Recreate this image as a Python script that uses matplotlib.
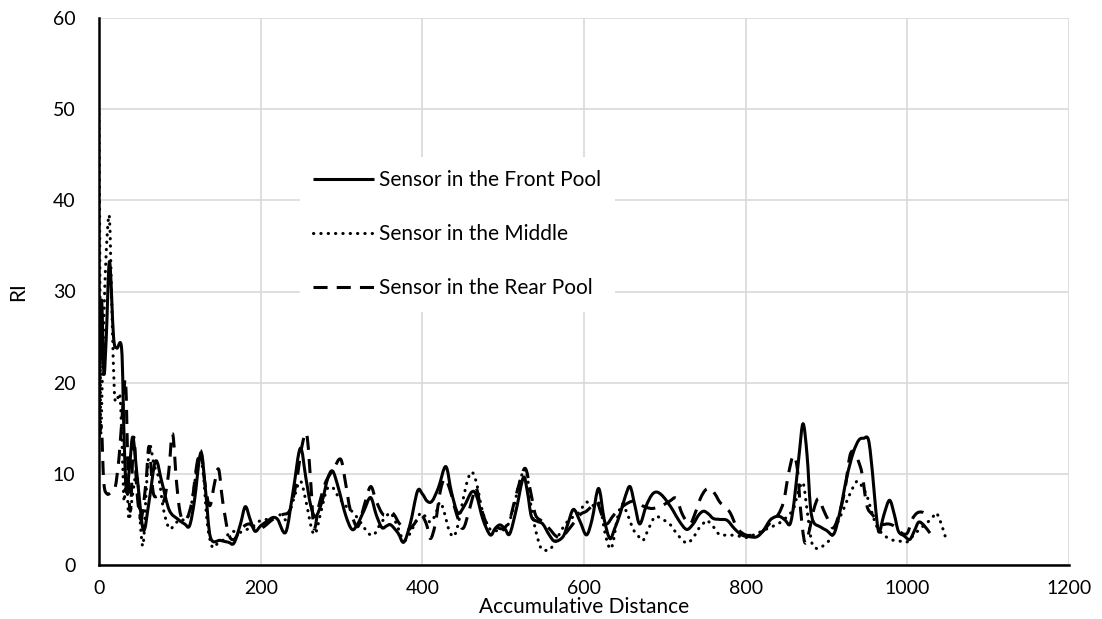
import numpy as np
import matplotlib
matplotlib.use("Agg")
import matplotlib.pyplot as plt
from matplotlib.path import Path
from matplotlib.patches import PathPatch
from matplotlib.lines import Line2D

plt.rcParams["font.family"] = ["Lato", "DejaVu Sans"]

# RI readings along the accumulated distance, one set per sensor
front_x = [0, 3, 6, 9, 13, 18, 22, 28, 31, 34,
           38, 42, 48, 55, 62, 70, 78, 87, 98, 106,
           112, 118, 126, 132, 138, 150, 160, 167, 175, 181,
           187, 193, 200, 208, 215, 221, 231, 240, 249, 256,
           262, 268, 276, 283, 289, 296, 305, 313, 320, 328,
           336, 343, 350, 356, 361, 370, 377, 385, 394, 400,
           406, 412, 420, 429, 436, 444, 452, 461, 467, 475,
           484, 490, 496, 502, 508, 516, 525, 530, 535, 542,
           549, 557, 564, 574, 580, 587, 595, 603, 610, 618,
           625, 632, 638, 645, 651, 657, 663, 669, 677, 684,
           690, 697, 704, 710, 718, 727, 735, 742, 748, 754,
           760, 768, 777, 786, 795, 805, 814, 822, 830, 837,
           843, 849, 855, 860, 866, 871, 876, 880, 884, 892,
           900, 909, 917, 925, 933, 940, 946, 952, 957, 961,
           965, 971, 978, 984, 989, 996, 1003, 1009, 1014, 1020,
           1028]
front_y = [15, 29, 21, 25, 33.3, 25, 23.8, 23.7, 14, 8,
           11, 14, 9, 3.8, 7, 11.4, 9, 6, 5, 4.5,
           4.3, 7, 12.3, 8, 3, 2.7, 2.5, 2.4, 4.5, 6.4,
           5, 3.7, 4.3, 4.8, 5.2, 5, 3.6, 8, 12.8, 9.5,
           6.5, 5.3, 7, 9.5, 10.3, 8.5, 5.5, 3.9, 4.5, 6,
           7.4, 5.5, 4.1, 4.3, 4.4, 3.5, 2.5, 4.5, 8.1, 7.8,
           7, 7, 8.5, 10.8, 8, 5.7, 6.5, 8, 7.6, 5,
           3.3, 4, 4.4, 4, 3.4, 6, 9.6, 8, 5.3, 4.8,
           4.5, 3.3, 2.6, 3.1, 4.5, 6.1, 4.8, 3.3, 5, 8.4,
           5, 2.9, 4, 5.7, 7.5, 8.6, 6.5, 4.5, 6.5, 7.7,
           8, 7.6, 6.8, 6, 4.8, 3.9, 4.5, 5.5, 5.9, 5.6,
           5.1, 5, 4.9, 4, 3.3, 3.1, 3.1, 3.8, 4.9, 5.3,
           5.3, 4.9, 4.5, 7, 12, 15.5, 12, 6.5, 4.7, 4.2,
           3.8, 3.4, 6, 9.6, 12.3, 13.7, 13.9, 13.7, 10, 6,
           3.6, 5.5, 7.1, 5.5, 3.7, 3.2, 2.8, 3.8, 4.7, 4.4,
           3.5]

mid_x = [0, 1, 2, 4, 7, 10, 13, 16, 19, 22,
         26, 29, 31, 34, 37, 42, 47, 52, 55, 59,
         63, 68, 74, 80, 87, 94, 100, 108, 114, 120,
         124, 129, 134, 140, 146, 152, 158, 165, 172, 180,
         190, 200, 208, 216, 224, 232, 240, 249, 256, 263,
         268, 275, 282, 289, 296, 305, 315, 325, 333, 340,
         348, 356, 361, 368, 377, 385, 392, 398, 404, 410,
         416, 422, 428, 432, 438, 443, 448, 455, 461, 467,
         475, 484, 494, 504, 512, 520, 527, 531, 535, 541,
         547, 553, 558, 566, 574, 582, 591, 597, 603, 610,
         616, 620, 626, 632, 636, 641, 647, 654, 661, 667,
         673, 680, 688, 697, 706, 716, 727, 735, 742, 748,
         752, 760, 768, 778, 790, 800, 810, 822, 835, 845,
         853, 859, 865, 871, 876, 882, 890, 897, 905, 913,
         921, 930, 938, 944, 950, 957, 963, 972, 983, 992,
         999, 1007, 1016, 1024, 1031, 1036, 1042, 1047]
mid_y = [49.5, 35, 15, 20, 30, 36, 38, 28, 19, 18,
         18.5, 12, 7, 10, 5, 8, 10, 3.5, 2.5, 9,
         13, 11, 9.5, 6, 4, 4.5, 5, 5, 6.5, 10,
         12, 10, 4.5, 2, 2.3, 2.6, 3.2, 3.7, 3.5, 3.8,
         4.2, 4.9, 5, 5.2, 5.5, 5, 7, 9.2, 7, 4,
         3.5, 6, 8.3, 8.5, 7.5, 6.5, 5.7, 4.5, 3.5, 3.3,
         4.5, 5.4, 5.7, 4.5, 2.7, 3.5, 4.8, 5.7, 5.3, 4.7,
         5.5, 6.9, 5.5, 4.1, 3.1, 4, 6.1, 9, 10.2, 9,
         5.7, 3.9, 3.8, 4.1, 6, 9, 10.6, 9, 6.1, 3.5,
         1.8, 1.6, 1.7, 2.8, 4.1, 5, 5.5, 6.2, 6.9, 6.5,
         6.8, 6.5, 3.5, 1.8, 2.5, 5, 6.7, 5.5, 3.9, 3.2,
         2.7, 4, 5.3, 5, 4.5, 3.3, 2.4, 3, 4, 4.6,
         4.9, 4.2, 3.3, 3.3, 3.2, 3, 3.3, 3.8, 4.3, 4.8,
         5.5, 6.1, 8, 9, 6, 2.4, 1.8, 2.2, 2.9, 4.5,
         6.1, 8, 9.2, 8.6, 7.6, 5.5, 4.1, 3.2, 2.7, 2.6,
         2.5, 3.2, 4, 4.6, 5.2, 5.7, 4.5, 3.1]

rear_x = [0, 3, 6, 10, 15, 20, 25, 30, 33, 36,
          39, 43, 47, 52, 58, 62, 67, 73, 80, 86,
          91, 96, 101, 108, 115, 121, 126, 131, 137, 143,
          148, 153, 160, 167, 176, 186, 195, 204, 215, 226,
          236, 244, 251, 257, 262, 266, 272, 280, 290, 299,
          305, 311, 320, 328, 336, 343, 352, 363, 372, 381,
          390, 398, 405, 410, 416, 422, 428, 435, 442, 450,
          458, 464, 467, 472, 480, 490, 500, 508, 517, 527,
          534, 540, 548, 557, 565, 572, 582, 595, 603, 610,
          616, 622, 628, 637, 649, 661, 672, 684, 696, 706,
          714, 722, 731, 738, 744, 750, 756, 762, 768, 775,
          781, 790, 800, 810, 820, 830, 840, 847, 853, 859,
          864, 868, 873, 878, 884, 890, 896, 903, 909, 917,
          923, 929, 934, 939, 944, 950, 957, 967, 977, 985,
          993, 1000, 1006, 1012, 1018, 1024]
rear_y = [14, 15, 9, 7.8, 8, 8.5, 12, 18, 20, 10,
          6, 14, 8, 5, 9, 13, 8, 7.5, 7, 10,
          14.4, 9, 5.5, 5, 7, 11, 12.5, 9, 6.5, 9,
          10.5, 7, 3.5, 2.8, 4, 4.5, 3.8, 4.2, 5, 5.5,
          6, 9, 13, 14.3, 9, 4, 6.5, 9, 10.5, 11.6,
          9, 6, 4.2, 6.5, 8.6, 7, 5.5, 5.7, 4.5, 3.8,
          4.5, 5.5, 4.5, 2.9, 4.5, 8, 9.5, 8, 5.7, 4,
          6, 8, 8.4, 6.5, 4.5, 4.2, 4, 5, 8, 10.6,
          8, 5.5, 4.8, 4, 3.2, 3, 4, 5.5, 5.9, 6.5,
          6.9, 5.5, 4.5, 5.5, 6.5, 7, 6.5, 6.2, 6.5, 7,
          7.3, 5.5, 4.5, 5.8, 7.3, 8.2, 8.4, 7.8, 6.9, 6.3,
          5.7, 4, 3.3, 3.3, 3.6, 4.6, 5.5, 7, 10, 12,
          10.5, 6, 2.5, 3.5, 6, 7.3, 6.1, 4.8, 4.1, 6,
          8.4, 12, 12.4, 11.5, 10, 6.5, 5.5, 4.5, 4.5, 4.2,
          3.5, 3.5, 5, 5.7, 5.8, 5.5]

labels = ["Sensor in the Front Pool", "Sensor in the Middle", "Sensor in the Rear Pool"]
x_ticks = [0, 200, 400, 600, 800, 1000, 1200]
y_ticks = [0, 10, 20, 30, 40, 50, 60]


def smooth_path(xs, ys):
    # cubic Bezier segments through every point (spreadsheet-style smoothed line)
    pts = np.column_stack([xs, ys]).astype(float)
    n = len(pts)
    verts = [pts[0]]
    codes = [Path.MOVETO]
    for i in range(n - 1):
        p0 = pts[i - 1] if i > 0 else pts[i]
        p1 = pts[i]
        p2 = pts[i + 1]
        p3 = pts[i + 2] if i + 2 < n else pts[i + 1]
        verts += [p1 + (p2 - p0) / 6, p2 - (p3 - p1) / 6, p2]
        codes += [Path.CURVE4] * 3
    return Path(verts, codes)


styles = [
    dict(linestyle="-", capstyle="butt"),
    dict(linestyle=(0, (0.1, 2.3)), capstyle="round"),
    dict(linestyle=(0, (4.6, 3.0)), capstyle="butt"),
]
series = [(front_x, front_y), (mid_x, mid_y), (rear_x, rear_y)]

fig = plt.figure(figsize=(11.02, 6.19), dpi=100)
ax = fig.add_axes([99 / 1102, 54 / 619, 970 / 1102, 547 / 619])

lw = 2.2
for (xs, ys), st in zip(series, styles):
    patch = PathPatch(smooth_path(xs, ys), facecolor="none", edgecolor="black",
                      linewidth=lw, linestyle=st["linestyle"], zorder=3)
    patch.set_capstyle(st["capstyle"])
    patch.set_joinstyle("round")
    ax.add_patch(patch)

ax.set_xlim(0, 1200)
ax.set_ylim(0, 60)
ax.set_xticks(x_ticks)
ax.set_yticks(y_ticks)
ax.tick_params(length=0, labelsize=14)
ax.tick_params(axis="x", pad=11)
ax.tick_params(axis="y", pad=17)
ax.grid(True, color="#d9d9d9", linewidth=1.2, zorder=0)
ax.set_axisbelow(True)
for side in ["top", "right"]:
    ax.spines[side].set_visible(False)
for side in ["left", "bottom"]:
    ax.spines[side].set_linewidth(1.8)
    ax.spines[side].set_zorder(4)

ax.set_xlabel("Accumulative Distance", fontsize=15)
ax.set_ylabel("RI", fontsize=15)
ax.xaxis.set_label_coords(0.5, -0.058)
ax.yaxis.set_label_coords(-0.073, 0.5)

handles = [Line2D([], [], color="black", linewidth=lw, linestyle=st["linestyle"],
                  dash_capstyle=st["capstyle"], solid_capstyle="butt")
           for st in styles]
leg = ax.legend(handles, labels, loc="upper left", bbox_to_anchor=(0.207, 0.746),
                fontsize=15, frameon=True, framealpha=1, facecolor="white",
                edgecolor="none", fancybox=False, handlelength=2.9,
                handletextpad=0.25, labelspacing=1.62, borderpad=0.65,
                borderaxespad=0)
leg.set_zorder(5)

fig.savefig("out.png", dpi=100)
